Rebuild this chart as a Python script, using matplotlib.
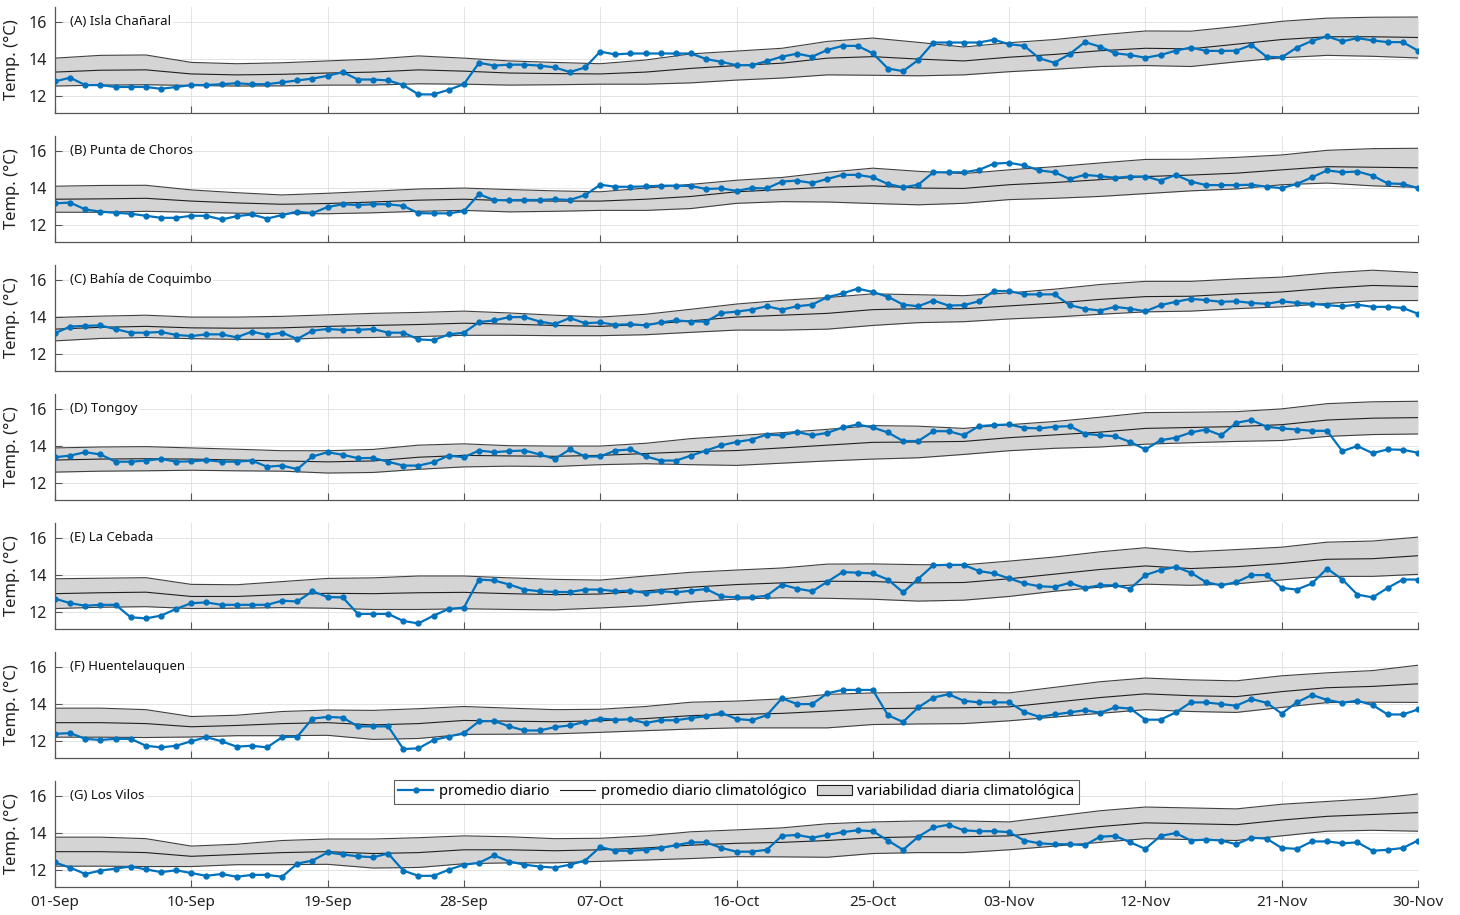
import numpy as np
import matplotlib
matplotlib.use("Agg")
import matplotlib.pyplot as plt
from matplotlib.lines import Line2D
from matplotlib.patches import Patch

plt.rcParams['font.family'] = ['Noto Sans', 'DejaVu Sans']

# daily means 01-Sep .. 30-Nov (91 days)
obs_a = [12.8, 13.0, 12.6, 12.6, 12.5, 12.5, 12.5, 12.4, 12.5, 12.6,
         12.6, 12.65, 12.7, 12.65, 12.65, 12.75, 12.85, 12.95, 13.1, 13.3,
         12.9, 12.9, 12.85, 12.6, 12.1, 12.1, 12.35, 12.65, 13.8, 13.65,
         13.7, 13.7, 13.65, 13.55, 13.3, 13.55, 14.4, 14.25, 14.3, 14.3,
         14.3, 14.3, 14.3, 14.0, 13.85, 13.67, 13.67, 13.89, 14.13, 14.29,
         14.13, 14.49, 14.71, 14.71, 14.31, 13.49, 13.35, 13.95, 14.89, 14.89,
         14.89, 14.89, 15.04, 14.8, 14.71, 14.04, 13.8, 14.27, 14.91, 14.67,
         14.31, 14.22, 14.07, 14.22, 14.45, 14.62, 14.44, 14.44, 14.45, 14.76,
         14.13, 14.09, 14.62, 14.98, 15.22, 14.95, 15.13, 15.0, 14.91, 14.91,
         14.45]
obs_b = [13.18, 13.22, 12.85, 12.73, 12.67, 12.62, 12.51, 12.4, 12.4, 12.51,
         12.51, 12.31, 12.49, 12.58, 12.36, 12.55, 12.73, 12.65, 12.98, 13.13,
         13.09, 13.13, 13.13, 13.04, 12.65, 12.64, 12.64, 12.76, 13.67, 13.35,
         13.35, 13.36, 13.36, 13.4, 13.36, 13.62, 14.18, 14.07, 14.07, 14.09,
         14.13, 14.13, 14.11, 13.95, 13.98, 13.85, 14.0, 13.98, 14.35, 14.4,
         14.27, 14.49, 14.71, 14.71, 14.58, 14.22, 14.04, 14.18, 14.85, 14.85,
         14.85, 14.98, 15.31, 15.36, 15.22, 14.95, 14.85, 14.49, 14.71, 14.64,
         14.55, 14.62, 14.62, 14.4, 14.71, 14.35, 14.16, 14.16, 14.16, 14.18,
         14.07, 14.0, 14.22, 14.58, 14.95, 14.85, 14.89, 14.67, 14.25, 14.22,
         14.0]
obs_c = [13.13, 13.49, 13.53, 13.55, 13.35, 13.16, 13.16, 13.2, 13.04, 12.98,
         13.07, 13.07, 12.91, 13.22, 13.04, 13.16, 12.82, 13.27, 13.36, 13.31,
         13.31, 13.36, 13.16, 13.16, 12.8, 12.76, 13.07, 13.16, 13.73, 13.82,
         14.0, 14.0, 13.76, 13.62, 13.95, 13.67, 13.71, 13.58, 13.62, 13.55,
         13.71, 13.82, 13.76, 13.76, 14.22, 14.29, 14.4, 14.58, 14.4, 14.58,
         14.67, 15.07, 15.27, 15.53, 15.35, 15.09, 14.67, 14.58, 14.89, 14.62,
         14.64, 14.85, 15.4, 15.4, 15.22, 15.22, 15.22, 14.64, 14.45, 14.35,
         14.55, 14.45, 14.31, 14.64, 14.82, 14.98, 14.91, 14.82, 14.85, 14.76,
         14.71, 14.85, 14.76, 14.71, 14.64, 14.58, 14.67, 14.55, 14.55, 14.49,
         14.18]
obs_d = [13.4, 13.49, 13.67, 13.55, 13.16, 13.16, 13.22, 13.31, 13.16, 13.18,
         13.24, 13.16, 13.16, 13.22, 12.89, 12.95, 12.76, 13.44, 13.67, 13.53,
         13.35, 13.36, 13.16, 12.95, 12.95, 13.13, 13.49, 13.4, 13.76, 13.67,
         13.73, 13.76, 13.55, 13.31, 13.82, 13.44, 13.44, 13.76, 13.82, 13.45,
         13.22, 13.22, 13.49, 13.76, 14.04, 14.22, 14.35, 14.62, 14.58, 14.76,
         14.58, 14.71, 15.0, 15.16, 15.0, 14.73, 14.27, 14.27, 14.8, 14.8,
         14.58, 15.07, 15.13, 15.16, 14.98, 14.95, 15.04, 15.07, 14.67, 14.58,
         14.53, 14.22, 13.82, 14.31, 14.45, 14.73, 14.89, 14.58, 15.25, 15.4,
         15.04, 14.95, 14.89, 14.82, 14.82, 13.73, 14.0, 13.62, 13.82, 13.8,
         13.64]
obs_e = [12.73, 12.49, 12.35, 12.4, 12.4, 11.73, 11.67, 11.82, 12.18, 12.49,
         12.53, 12.4, 12.4, 12.4, 12.4, 12.62, 12.58, 13.13, 12.82, 12.8,
         11.91, 11.91, 11.91, 11.53, 11.4, 11.82, 12.18, 12.25, 13.76, 13.71,
         13.49, 13.22, 13.13, 13.09, 13.09, 13.22, 13.22, 13.13, 13.16, 13.04,
         13.13, 13.07, 13.16, 13.25, 12.85, 12.8, 12.8, 12.89, 13.49, 13.27,
         13.13, 13.64, 14.16, 14.13, 14.09, 13.76, 13.07, 13.8, 14.53, 14.55,
         14.55, 14.22, 14.09, 13.82, 13.55, 13.4, 13.36, 13.58, 13.31, 13.45,
         13.45, 13.27, 14.0, 14.27, 14.44, 14.13, 13.62, 13.44, 13.62, 14.0,
         14.0, 13.31, 13.22, 13.55, 14.35, 13.76, 12.95, 12.8, 13.31, 13.76,
         13.76]
obs_f = [12.4, 12.44, 12.13, 12.07, 12.13, 12.13, 11.76, 11.67, 11.76, 12.0,
         12.22, 12.0, 11.71, 11.76, 11.67, 12.22, 12.25, 13.22, 13.31, 13.27,
         12.8, 12.8, 12.8, 11.58, 11.62, 12.07, 12.25, 12.44, 13.07, 13.09,
         12.8, 12.58, 12.58, 12.76, 12.85, 13.04, 13.22, 13.16, 13.18, 12.98,
         13.13, 13.13, 13.25, 13.35, 13.53, 13.2, 13.13, 13.4, 14.31, 14.0,
         14.0, 14.58, 14.76, 14.76, 14.76, 13.4, 13.04, 13.82, 14.35, 14.53,
         14.18, 14.09, 14.09, 14.09, 13.58, 13.31, 13.44, 13.55, 13.67, 13.53,
         13.82, 13.76, 13.16, 13.16, 13.55, 14.09, 14.09, 14.0, 13.91, 14.27,
         14.07, 13.49, 14.09, 14.49, 14.22, 14.07, 14.18, 13.95, 13.44, 13.44,
         13.71]
obs_g = [12.42, 12.14, 11.8, 11.98, 12.09, 12.2, 12.05, 11.9, 12.0, 11.85,
         11.7, 11.8, 11.65, 11.75, 11.75, 11.65, 12.36, 12.52, 12.96, 12.85,
         12.75, 12.7, 12.9, 11.98, 11.7, 11.7, 12.03, 12.3, 12.4, 12.8,
         12.47, 12.3, 12.2, 12.14, 12.3, 12.52, 13.25, 13.05, 13.05, 13.1,
         13.2, 13.35, 13.5, 13.5, 13.2, 13.0, 13.0, 13.1, 13.85, 13.9,
         13.75, 13.9, 14.05, 14.15, 14.1, 13.6, 13.1, 13.8, 14.3, 14.45,
         14.15, 14.1, 14.1, 14.05, 13.6, 13.45, 13.4, 13.4, 13.35, 13.8,
         13.85, 13.5, 13.15, 13.85, 14.0, 13.6, 13.65, 13.6, 13.4, 13.75,
         13.7, 13.2, 13.15, 13.55, 13.55, 13.45, 13.5, 13.05, 13.1, 13.2,
         13.6]

# climatology, every third day starting 01-Sep
clim_days = [0, 3, 6, 9, 12, 15, 18, 21, 24, 27, 30, 33, 36, 39, 42, 45,
             48, 51, 54, 57, 60, 63, 66, 69, 72, 75, 78, 81, 84, 87, 90]
clim_mean_a = [13.3, 13.4, 13.42, 13.2, 13.15, 13.18, 13.25, 13.3, 13.42, 13.35, 13.25,
               13.22, 13.2, 13.3, 13.5, 13.65, 13.78, 14.05, 14.13, 14.0, 13.9,
               14.1, 14.25, 14.45, 14.58, 14.55, 14.8, 15.05, 15.2, 15.2, 15.16]
clim_std_a = [0.75, 0.8, 0.8, 0.62, 0.6, 0.62, 0.65, 0.7, 0.75, 0.7, 0.65,
              0.6, 0.55, 0.65, 0.78, 0.78, 0.8, 0.9, 1.0, 0.9, 0.75,
              0.78, 0.8, 0.85, 0.93, 0.95, 0.95, 0.98, 1.0, 1.05, 1.1]
clim_mean_b = [13.4, 13.42, 13.45, 13.3, 13.2, 13.13, 13.17, 13.25, 13.35, 13.4, 13.32,
               13.3, 13.3, 13.4, 13.55, 13.8, 13.92, 14.05, 14.12, 14.0, 13.98,
               14.18, 14.3, 14.45, 14.62, 14.7, 14.8, 14.98, 15.15, 15.12, 15.09]
clim_std_b = [0.7, 0.72, 0.7, 0.6, 0.55, 0.5, 0.55, 0.58, 0.6, 0.6, 0.6,
              0.55, 0.5, 0.6, 0.65, 0.62, 0.65, 0.8, 0.95, 0.9, 0.8,
              0.8, 0.85, 0.9, 0.92, 0.85, 0.85, 0.8, 0.88, 1.0, 1.05]
clim_mean_c = [13.35, 13.45, 13.5, 13.42, 13.4, 13.42, 13.5, 13.55, 13.6, 13.67, 13.62,
               13.55, 13.5, 13.6, 13.8, 14.0, 14.1, 14.2, 14.4, 14.45, 14.45,
               14.6, 14.75, 14.95, 15.1, 15.12, 15.25, 15.35, 15.55, 15.7, 15.64]
clim_std_c = [0.63, 0.6, 0.6, 0.58, 0.6, 0.62, 0.62, 0.65, 0.65, 0.65, 0.6,
              0.55, 0.5, 0.55, 0.62, 0.7, 0.8, 0.85, 0.85, 0.75, 0.7,
              0.7, 0.75, 0.8, 0.82, 0.8, 0.8, 0.8, 0.82, 0.82, 0.75]
clim_mean_d = [13.25, 13.3, 13.32, 13.3, 13.25, 13.2, 13.15, 13.2, 13.4, 13.5, 13.47,
               13.45, 13.5, 13.6, 13.7, 13.76, 13.9, 14.05, 14.2, 14.22, 14.25,
               14.45, 14.6, 14.75, 14.95, 15.0, 15.05, 15.15, 15.4, 15.5, 15.53]
clim_std_d = [0.65, 0.65, 0.65, 0.6, 0.58, 0.55, 0.6, 0.62, 0.65, 0.62, 0.55,
              0.55, 0.5, 0.55, 0.7, 0.8, 0.82, 0.85, 0.9, 0.85, 0.7,
              0.7, 0.72, 0.8, 0.85, 0.82, 0.8, 0.85, 0.88, 0.88, 0.88]
clim_mean_e = [13.0, 13.05, 13.08, 12.85, 12.85, 12.95, 13.02, 13.0, 13.05, 13.07, 13.0,
               12.95, 12.98, 13.15, 13.35, 13.49, 13.58, 13.67, 13.65, 13.58, 13.6,
               13.8, 14.05, 14.3, 14.49, 14.35, 14.45, 14.62, 14.85, 14.88, 15.04]
clim_std_e = [0.8, 0.78, 0.78, 0.65, 0.63, 0.7, 0.8, 0.85, 0.9, 0.88, 0.85,
              0.82, 0.75, 0.8, 0.8, 0.78, 0.8, 0.92, 0.95, 0.98, 0.95,
              0.95, 0.92, 0.95, 0.98, 0.9, 0.92, 0.88, 0.92, 0.95, 1.0]
clim_mean_f = [13.0, 13.0, 12.95, 12.78, 12.85, 12.95, 13.0, 12.88, 12.95, 13.12, 13.08,
               13.05, 13.1, 13.22, 13.38, 13.44, 13.5, 13.62, 13.75, 13.78, 13.8,
               13.85, 14.1, 14.35, 14.55, 14.45, 14.4, 14.67, 14.88, 14.95, 15.09]
clim_std_f = [0.78, 0.78, 0.75, 0.55, 0.55, 0.65, 0.68, 0.78, 0.8, 0.75, 0.7,
              0.65, 0.62, 0.65, 0.72, 0.72, 0.78, 0.9, 0.85, 0.85, 0.85,
              0.75, 0.8, 0.85, 0.85, 0.85, 0.85, 0.85, 0.8, 0.85, 1.0]
clim_mean_g = [13.0, 13.0, 12.95, 12.75, 12.85, 12.95, 13.0, 12.9, 12.95, 13.1, 13.1,
               13.05, 13.1, 13.2, 13.35, 13.45, 13.5, 13.6, 13.75, 13.8, 13.8,
               13.85, 14.1, 14.35, 14.55, 14.5, 14.45, 14.7, 14.9, 15.0, 15.1]
clim_std_g = [0.78, 0.78, 0.75, 0.55, 0.55, 0.65, 0.68, 0.78, 0.8, 0.75, 0.7,
              0.65, 0.62, 0.65, 0.72, 0.72, 0.78, 0.9, 0.85, 0.85, 0.85,
              0.75, 0.8, 0.85, 0.85, 0.85, 0.85, 0.85, 0.8, 0.85, 1.0]

titles = ["(A) Isla Chañaral", "(B) Punta de Choros", "(C) Bahía de Coquimbo",
          "(D) Tongoy", "(E) La Cebada", "(F) Huentelauquen", "(G) Los Vilos"]
tick_days = [0, 9, 18, 27, 36, 45, 54, 63, 72, 81, 90]
tick_labels = ["01-Sep", "10-Sep", "19-Sep", "28-Sep", "07-Oct", "16-Oct",
               "25-Oct", "03-Nov", "12-Nov", "21-Nov", "30-Nov"]

observed = [obs_a, obs_b, obs_c, obs_d, obs_e, obs_f, obs_g]
clim_means = [clim_mean_a, clim_mean_b, clim_mean_c, clim_mean_d,
              clim_mean_e, clim_mean_f, clim_mean_g]
clim_stds = [clim_std_a, clim_std_b, clim_std_c, clim_std_d,
             clim_std_e, clim_std_f, clim_std_g]

blue = '#0072BD'
band = '#d4d4d4'
W, H = 1460, 915

fig = plt.figure(figsize=(W / 100, H / 100), dpi=100)

for k in range(7):
    top_px = 7 + 129 * k
    ax = fig.add_axes([55 / W, 1 - (top_px + 106) / H, 1363 / W, 106 / H])
    days = np.arange(len(observed[k]))
    m = np.array(clim_means[k])
    s = np.array(clim_stds[k])

    # climatological band, its edges and the mean
    ax.fill_between(clim_days, m - s, m + s, color=band, lw=0, zorder=1)
    ax.plot(clim_days, m + s, color='#404040', lw=0.8, zorder=2)
    ax.plot(clim_days, m - s, color='#404040', lw=0.8, zorder=2)
    ax.plot(clim_days, m, color='#202020', lw=0.8, zorder=2)
    ax.plot(days, observed[k], color=blue, lw=1.6, marker='.', ms=7, zorder=3)

    ax.set_xlim(0, 90)
    ax.set_ylim(11.1, 16.8)
    ax.set_yticks([12, 14, 16])
    ax.set_xticks(tick_days)
    if k == 6:
        ax.set_xticklabels(tick_labels)
    else:
        ax.set_xticklabels([])
    ax.grid(True, color='#e3e3e3', lw=0.7)
    ax.set_axisbelow(True)
    for side in ['top', 'right']:
        ax.spines[side].set_visible(False)
    for side in ['left', 'bottom']:
        ax.spines[side].set_color('#555555')
        ax.spines[side].set_linewidth(0.9)
    ax.tick_params(direction='in', length=5, width=0.8, color='#555555',
                   labelsize=11, labelcolor='#222222', pad=6)
    ax.tick_params(axis='y', labelsize=11.5)
    ax.set_ylabel("Temp. (°C)", fontsize=12, color='#222222', labelpad=6)
    ax.text(0.011, 16, titles[k], transform=ax.get_yaxis_transform(),
            ha='left', va='center', fontsize=9.5, color='#111111',
            bbox=dict(facecolor='white', edgecolor='none', pad=1), zorder=4)

    if k == 6:
        handles = [Line2D([], [], color=blue, lw=1.6, marker='.', ms=7),
                   Line2D([], [], color='#202020', lw=0.8),
                   Patch(facecolor=band, edgecolor='#202020', lw=0.8)]
        names = ["promedio diario", "promedio diario climatológico",
                 "variabilidad diaria climatológica"]
        leg = ax.legend(handles, names, loc='upper center', ncol=3,
                        bbox_to_anchor=(0.5, 1.01), fontsize=10.5,
                        frameon=True, fancybox=False, borderpad=0.3,
                        handlelength=2.4, columnspacing=0.7, handletextpad=0.4,
                        borderaxespad=0)
        leg.get_frame().set_edgecolor('#333333')
        leg.get_frame().set_linewidth(0.8)

fig.savefig("out.png", dpi=100)
